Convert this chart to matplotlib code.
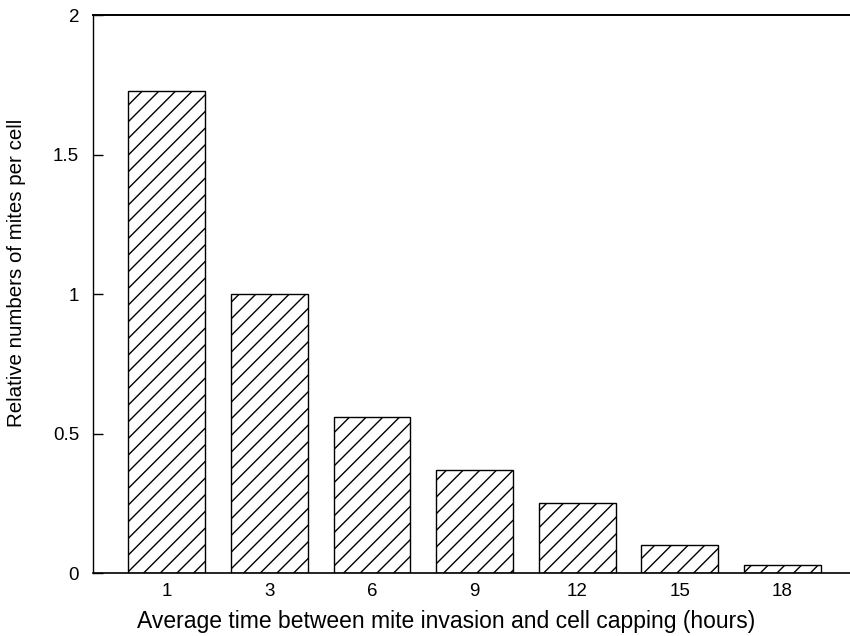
import numpy as np
import matplotlib
matplotlib.use("Agg")
import matplotlib.pyplot as plt

plt.rcParams['font.family'] = ['Liberation Sans', 'DejaVu Sans']
plt.rcParams['hatch.linewidth'] = 1.0

hours = ['1', '3', '6', '9', '12', '15', '18']
mites_per_cell = [1.73, 1.0, 0.56, 0.37, 0.25, 0.10, 0.03]

fig = plt.figure(figsize=(8.5, 6.36), dpi=100)
ax = fig.add_axes([0.1094, 0.099, 0.8906, 0.877])

x = np.arange(len(hours))
ax.bar(x, mites_per_cell, width=0.75, color='white', edgecolor='black',
       linewidth=1.0, hatch='//')

ax.set_xlim(-0.72, 6.66)
ax.set_ylim(0, 2)
ax.set_xticks(x)
ax.set_xticklabels(hours)
ax.set_yticks([0, 0.5, 1, 1.5, 2])
ax.set_yticklabels(['0', '0.5', '1', '1.5', '2'])

ax.tick_params(axis='x', length=0, pad=7, labelsize=13.5)
ax.tick_params(axis='y', direction='in', length=7, width=1, pad=10, labelsize=13.5)

ax.spines['right'].set_visible(False)
ax.spines['top'].set_linewidth(1.4)
ax.spines['left'].set_linewidth(1.0)
ax.spines['bottom'].set_linewidth(1.2)

ax.set_xlabel("Average time between mite invasion and cell capping (hours)", fontsize=16.5)
ax.set_ylabel("Relative numbers of mites per cell", fontsize=14.8)
ax.xaxis.set_label_coords(0.466, -0.066)
ax.yaxis.set_label_coords(-0.088, 0.538)

fig.savefig("out.png", dpi=100)
